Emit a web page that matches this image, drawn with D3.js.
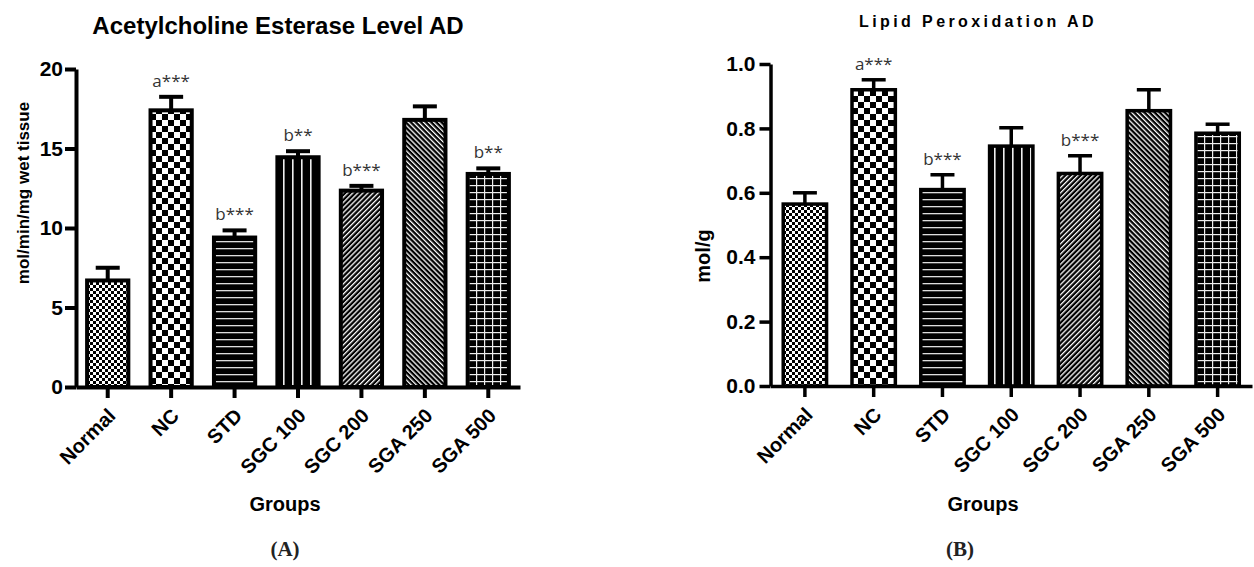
<!DOCTYPE html>
<html>
<head>
<meta charset="utf-8">
<script src="https://cdn.jsdelivr.net/npm/d3@7"></script>
<style>
  body { margin: 0; background: #fff; }
  svg { display: block; font-family: 'Liberation Sans', Arial, sans-serif; }
</style>
</head>
<body>
<svg id="chart" width="1254" height="567"></svg>
<script>
// data
const groups = ['Normal', 'NC', 'STD', 'SGC 100', 'SGC 200', 'SGA 250', 'SGA 500'];

const acheMean = [6.7, 17.4, 9.4, 14.45, 12.35, 16.8, 13.4];
const acheSem = [0.8, 0.85, 0.45, 0.38, 0.3, 0.85, 0.35];
const acheSig = ['', 'a***', 'b***', 'b**', 'b***', '', 'b**'];
const acheTicks = [0, 5, 10, 15, 20];

const lpoMean = [0.565, 0.92, 0.61, 0.745, 0.66, 0.855, 0.785];
const lpoSem = [0.035, 0.031, 0.046, 0.057, 0.055, 0.065, 0.028];
const lpoSig = ['', 'a***', 'b***', '', 'b***', '', ''];
const lpoTicks = [0, 0.2, 0.4, 0.6, 0.8, 1.0];

const svg = d3.select('#chart');
const defs = svg.append('defs');

/**
* Add an empty tiling pattern to defs.
*/
function pattern(id, w, h, angle) {
  let p = defs.append('pattern')
      .attr('id', id)
      .attr('patternUnits', 'userSpaceOnUse')
      .attr('width', w)
      .attr('height', h);
  if (angle) {
    p.attr('patternTransform', 'rotate(' + angle + ')');
  }
  return p;
}

// Normal: fine checker
let p = pattern('fineCheck', 6, 6);
p.append('rect').attr('width', 6).attr('height', 6).attr('fill', '#fff');
p.append('rect').attr('width', 3).attr('height', 3).attr('fill', '#000');
p.append('rect').attr('x', 3).attr('y', 3).attr('width', 3).attr('height', 3).attr('fill', '#000');

// NC: coarse checker
p = pattern('check', 12, 12);
p.append('rect').attr('width', 12).attr('height', 12).attr('fill', '#fff');
p.append('rect').attr('width', 6).attr('height', 6).attr('fill', '#000');
p.append('rect').attr('x', 6).attr('y', 6).attr('width', 6).attr('height', 6).attr('fill', '#000');

// STD: horizontal lines
p = pattern('hLines', 7, 7);
p.append('rect').attr('width', 7).attr('height', 7).attr('fill', '#000');
p.append('rect').attr('y', 3).attr('width', 7).attr('height', 1.3).attr('fill', '#ddd');

// SGC 100: vertical lines
p = pattern('vLines', 9, 9);
p.append('rect').attr('width', 9).attr('height', 9).attr('fill', '#000');
p.append('rect').attr('x', 4).attr('width', 1.6).attr('height', 9).attr('fill', '#eee');

// SGC 200 / SGA 250: diagonals
['diagUp', 'diagDown'].forEach(function(id, i) {
  let d = pattern(id, 3.6, 3.6, i === 0 ? 45 : -45);
  d.append('rect').attr('width', 3.6).attr('height', 3.6).attr('fill', '#000');
  d.append('rect').attr('width', 1.3).attr('height', 3.6).attr('fill', '#fff');
});

// SGA 500: grid
p = pattern('grid', 8, 7);
p.append('rect').attr('width', 8).attr('height', 7).attr('fill', '#000');
p.append('rect').attr('y', 3).attr('width', 8).attr('height', 1.2).attr('fill', '#eee');
p.append('rect').attr('x', 4).attr('width', 1.2).attr('height', 7).attr('fill', '#eee');

const fills = ['fineCheck', 'check', 'hLines', 'vLines', 'diagUp', 'diagDown', 'grid'];

/**
* Draw one bar panel.
*/
function drawPanel(cfg) {
  let g = svg.append('g');

  let x = d3.scaleBand()
    .domain(groups)
    .range([cfg.left, cfg.right])
    .paddingInner(cfg.pad)
    .paddingOuter(cfg.pad / 2);

  let y = d3.scaleLinear()
    .domain([0, d3.max(cfg.ticks)])
    .range([cfg.bottom, cfg.top]);

  let data = groups.map(function(name, i) {
    return {name: name, mean: cfg.mean[i], sem: cfg.sem[i], sig: cfg.sig[i], fill: fills[i]};
  });

  // bars
  g.selectAll('rect.bar').data(data).enter()
    .append('rect')
      .attr('class', 'bar')
      .attr('x', function(d) {
        return x(d.name);
      })
      .attr('y', function(d) {
        return y(d.mean);
      })
      .attr('width', x.bandwidth())
      .attr('height', function(d) {
        return y(0) - y(d.mean);
      })
      .attr('fill', function(d) {
        return 'url(#' + d.fill + ')';
      })
      .attr('stroke', '#000')
      .attr('stroke-width', cfg.stroke);

  // error bars, upper only
  let eb = g.selectAll('g.err').data(data).enter()
    .append('g')
      .attr('class', 'err')
      .attr('stroke', '#000')
      .attr('stroke-width', cfg.stroke);

  eb.append('line')
      .attr('x1', function(d) {
        return x(d.name) + x.bandwidth() / 2;
      })
      .attr('x2', function(d) {
        return x(d.name) + x.bandwidth() / 2;
      })
      .attr('y1', function(d) {
        return y(d.mean);
      })
      .attr('y2', function(d) {
        return y(d.mean + d.sem);
      });

  eb.append('line')
      .attr('x1', function(d) {
        return x(d.name) + x.bandwidth() / 2 - 12;
      })
      .attr('x2', function(d) {
        return x(d.name) + x.bandwidth() / 2 + 12;
      })
      .attr('y1', function(d) {
        return y(d.mean + d.sem);
      })
      .attr('y2', function(d) {
        return y(d.mean + d.sem);
      });

  // significance letters
  g.selectAll('text.sig').data(data).enter()
    .append('text')
      .attr('class', 'sig')
      .attr('x', function(d) {
        return x(d.name) + x.bandwidth() / 2;
      })
      .attr('y', function(d) {
        return y(d.mean + d.sem) - 10;
      })
      .attr('text-anchor', 'middle')
      .attr('font-family', '"Open Sans", sans-serif')
      .attr('font-size', 17)
      .attr('fill', '#333')
      .text(function(d) {
        return d.sig;
      });

  // axes
  let yAxis = g.append('g')
      .attr('transform', 'translate(' + cfg.left + ',0)')
      .call(d3.axisLeft(y)
        .tickValues(cfg.ticks)
        .tickFormat(cfg.fmt)
        .tickSize(11)
        .tickSizeOuter(0)
        .tickPadding(cfg.tickPad));

  let xAxis = g.append('g')
      .attr('transform', 'translate(0,' + cfg.bottom + ')')
      .call(d3.axisBottom(x).tickSize(11).tickSizeOuter(0));

  [yAxis, xAxis].forEach(function(a) {
    a.attr('font-family', null);
    a.selectAll('path, line')
        .attr('stroke', '#000')
        .attr('stroke-width', cfg.stroke);
    a.selectAll('text')
        .attr('fill', '#000')
        .attr('font-size', 21)
        .attr('font-weight', 'bold');
  });

  xAxis.selectAll('.tick text')
      .attr('font-size', 20)
      .attr('text-anchor', 'end')
      .attr('x', 0)
      .attr('y', 0)
      .attr('dy', 0)
      .attr('transform', 'translate(9,30) rotate(-45)');

  // titles
  g.append('text')
      .attr('x', cfg.titleX)
      .attr('y', cfg.titleY)
      .attr('text-anchor', 'middle')
      .attr('font-size', cfg.titleSize)
      .attr('font-weight', 'bold')
      .attr('letter-spacing', cfg.titleSpacing)
      .text(cfg.title);

  g.append('text')
      .attr('transform', 'translate(' + cfg.yLabX + ',' + cfg.yLabY + ') rotate(-90)')
      .attr('text-anchor', 'middle')
      .attr('font-size', cfg.yLabSize)
      .attr('font-weight', 'bold')
      .text(cfg.yLabel);

  g.append('text')
      .attr('x', cfg.groupsX)
      .attr('y', 511)
      .attr('text-anchor', 'middle')
      .attr('font-size', 20)
      .attr('font-weight', 'bold')
      .text('Groups');

  g.append('text')
      .attr('x', cfg.panelX)
      .attr('y', 556)
      .attr('text-anchor', 'middle')
      .attr('font-family', '"Liberation Serif", serif')
      .attr('font-size', 21)
      .attr('font-weight', 'bold')
      .attr('fill', '#222')
      .text(cfg.panel);
}

drawPanel({
  mean: acheMean, sem: acheSem, sig: acheSig, ticks: acheTicks,
  fmt: d3.format('d'),
  left: 76, right: 520, top: 69, bottom: 387, pad: 0.35, stroke: 4, tickPad: 2,
  title: 'Acetylcholine Esterase Level AD', titleX: 278, titleY: 34, titleSize: 24, titleSpacing: 0,
  yLabel: 'mol/min/mg wet tissue', yLabX: 29, yLabY: 193, yLabSize: 17,
  groupsX: 285, panel: '(A)', panelX: 285,
});

drawPanel({
  mean: lpoMean, sem: lpoSem, sig: lpoSig, ticks: lpoTicks,
  fmt: d3.format('.1f'),
  left: 770.5, right: 1252, top: 64, bottom: 386, pad: 0.37, stroke: 3.5, tickPad: 4,
  title: 'Lipid Peroxidation AD', titleX: 978, titleY: 27, titleSize: 16, titleSpacing: 3.4,
  yLabel: 'mol/g', yLabX: 710, yLabY: 256, yLabSize: 20,
  groupsX: 983, panel: '(B)', panelX: 960,
});
</script>
</body>
</html>
